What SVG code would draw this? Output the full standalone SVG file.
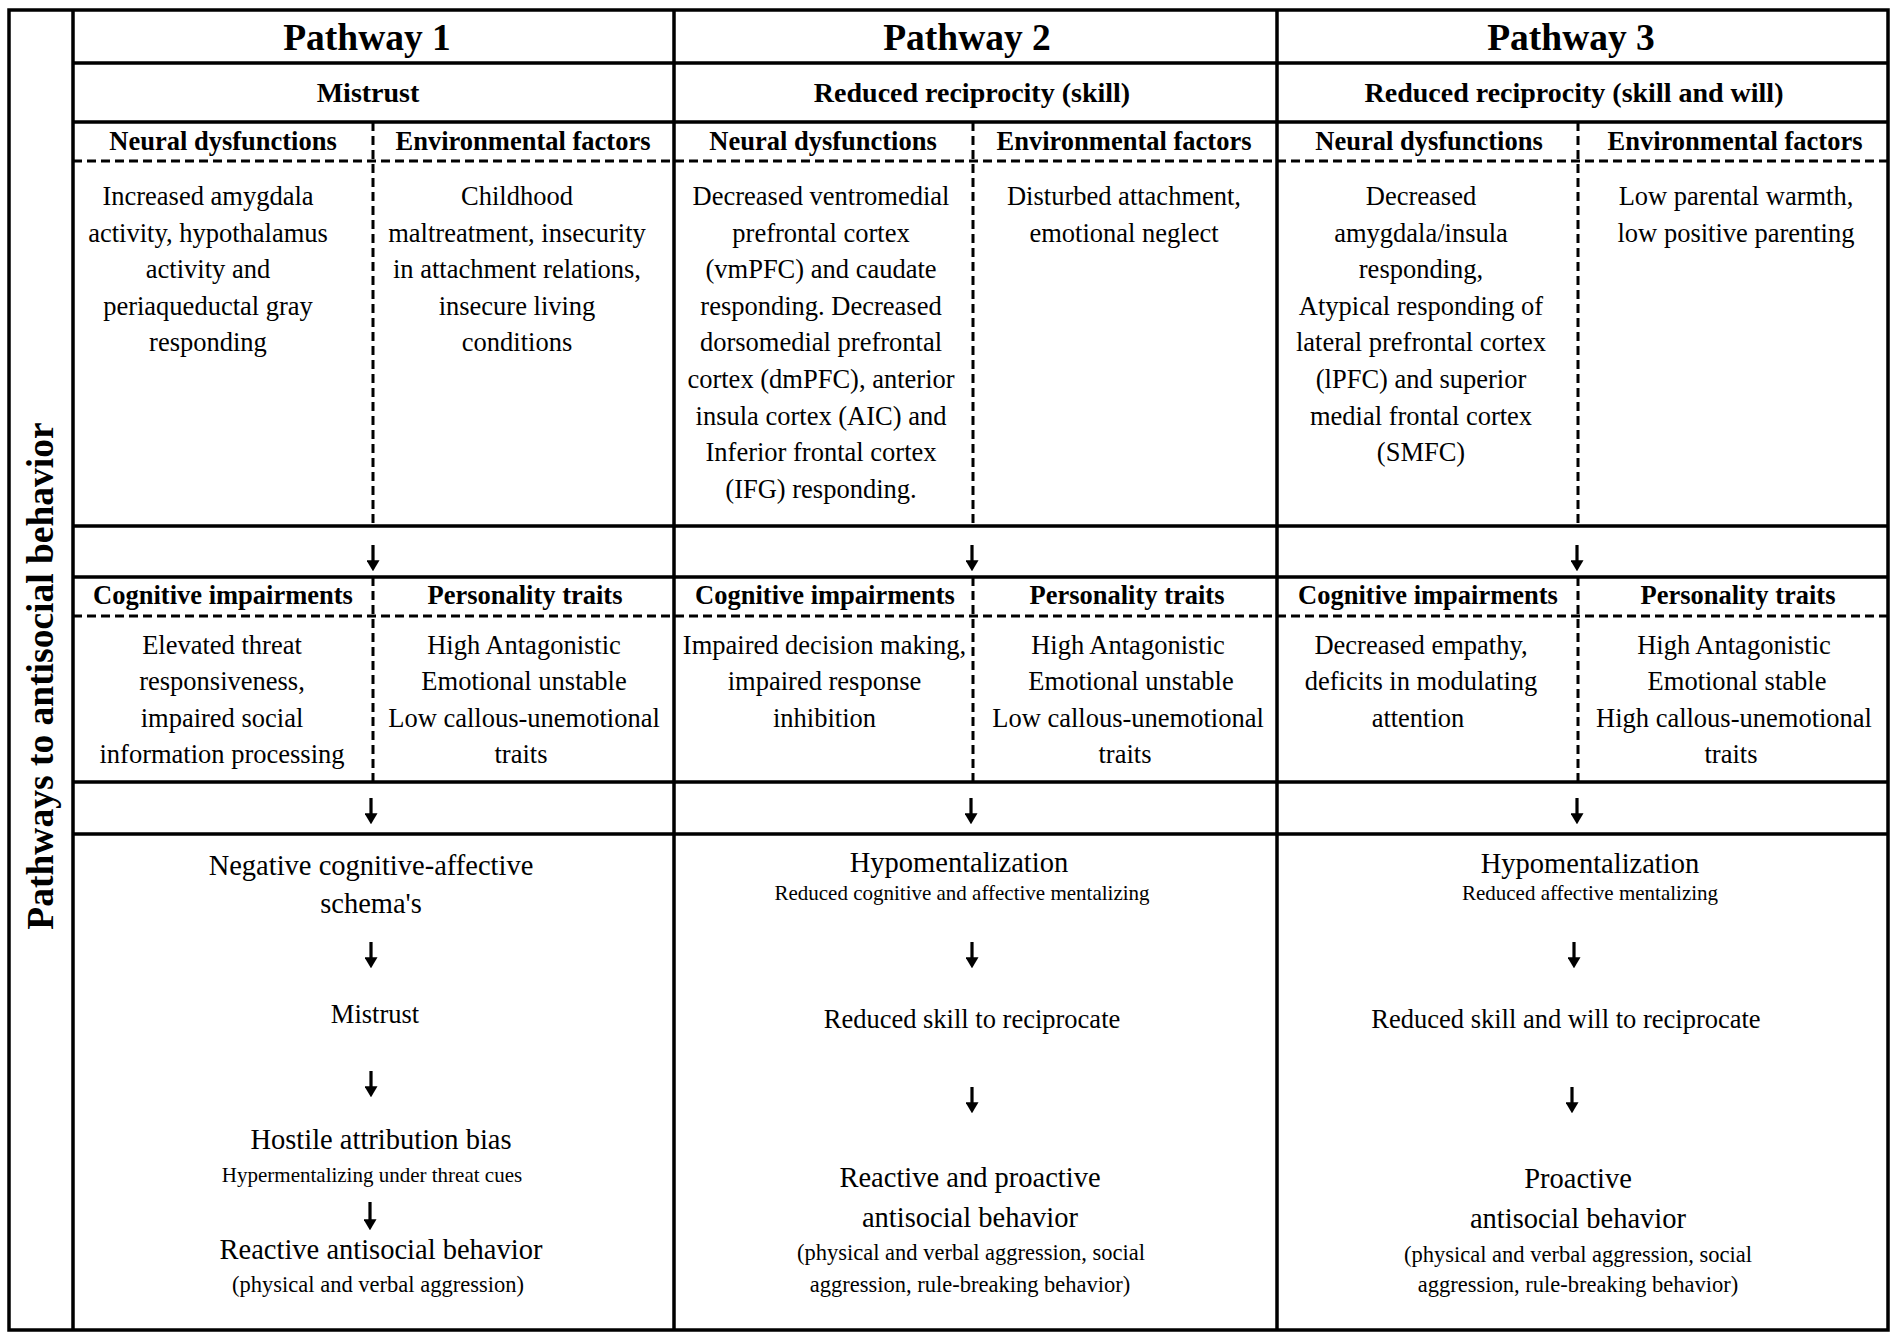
<svg xmlns="http://www.w3.org/2000/svg" width="1902" height="1343" viewBox="0 0 1902 1343">
<defs>
<style>
text { font-family: "Liberation Serif", "Times New Roman", serif; fill: #000; text-anchor: middle; }
.t1 { font-size: 37.5px; font-weight: bold; }
.t2 { font-size: 28px; font-weight: bold; }
.h { font-size: 26.5px; font-weight: bold; }
.b { font-size: 26.5px; }
.L { font-size: 28.5px; }
.s { font-size: 21px; }
.p { font-size: 22.5px; }
.grid { stroke: #000; stroke-width: 3.5; fill: none; }
.dash { stroke: #000; stroke-width: 3; stroke-dasharray: 9 5; fill: none; }
.arr { stroke: #000; stroke-width: 3.2; fill: none; marker-end: url(#ah); }
</style>
<marker id="ah" viewBox="0 0 10 10" refX="7" refY="5" markerWidth="11" markerHeight="13" preserveAspectRatio="none" markerUnits="userSpaceOnUse" orient="auto">
<path d="M0,0 L10,5 L0,10 z" fill="#000"/>
</marker>
</defs>
<rect x="0" y="0" width="1902" height="1343" fill="#fff"/>

<g id="grid">
<rect class="grid" x="9" y="10" width="1879" height="1320"/>
<path class="grid" d="M73,10 V1330 M674,10 V1330 M1277,10 V1330 M73,63 H1888 M73,122 H1888 M73,526 H1888 M73,577 H1888 M73,782 H1888 M73,834 H1888"/>
<path class="dash" d="M73,161 H1888 M73,616 H1888"/>
<path class="dash" d="M373,122 V526 M973,122 V526 M1578,122 V526 M373,577 V782 M973,577 V782 M1578,577 V782"/>
</g>

<g id="side-label">
<text class="t1" transform="translate(53,676) rotate(-90)">Pathways to antisocial behavior</text>
</g>

<g id="pathway1-header">
<text class="t1" x="367" y="50">Pathway 1</text>
<text class="t2" x="368" y="102">Mistrust</text>
</g>
<g id="pathway2-header">
<text class="t1" x="967" y="50">Pathway 2</text>
<text class="t2" x="972" y="102">Reduced reciprocity (skill)</text>
</g>
<g id="pathway3-header">
<text class="t1" x="1571" y="50">Pathway 3</text>
<text class="t2" x="1574" y="102">Reduced reciprocity (skill and will)</text>
</g>

<g id="p1-neural">
<text class="h" x="223" y="150">Neural dysfunctions</text>
<text class="b" x="208" y="205">Increased amygdala</text>
<text class="b" x="208" y="241.6">activity, hypothalamus</text>
<text class="b" x="208" y="278.2">activity and</text>
<text class="b" x="208" y="314.8">periaqueductal gray</text>
<text class="b" x="208" y="351.4">responding</text>
</g>
<g id="p1-environmental">
<text class="h" x="523" y="150">Environmental factors</text>
<text class="b" x="517" y="205">Childhood</text>
<text class="b" x="517" y="241.6">maltreatment, insecurity</text>
<text class="b" x="517" y="278.2">in attachment relations,</text>
<text class="b" x="517" y="314.8">insecure living</text>
<text class="b" x="517" y="351.4">conditions</text>
</g>
<g id="p2-neural">
<text class="h" x="823" y="150">Neural dysfunctions</text>
<text class="b" x="821" y="205">Decreased ventromedial</text>
<text class="b" x="821" y="241.6">prefrontal cortex</text>
<text class="b" x="821" y="278.2">(vmPFC) and caudate</text>
<text class="b" x="821" y="314.8">responding. Decreased</text>
<text class="b" x="821" y="351.4">dorsomedial prefrontal</text>
<text class="b" x="821" y="388">cortex (dmPFC), anterior</text>
<text class="b" x="821" y="424.6">insula cortex (AIC) and</text>
<text class="b" x="821" y="461.2">Inferior frontal cortex</text>
<text class="b" x="821" y="497.8">(IFG) responding.</text>
</g>
<g id="p2-environmental">
<text class="h" x="1124" y="150">Environmental factors</text>
<text class="b" x="1124" y="205">Disturbed attachment,</text>
<text class="b" x="1124" y="241.6">emotional neglect</text>
</g>
<g id="p3-neural">
<text class="h" x="1429" y="150">Neural dysfunctions</text>
<text class="b" x="1421" y="205">Decreased</text>
<text class="b" x="1421" y="241.6">amygdala/insula</text>
<text class="b" x="1421" y="278.2">responding,</text>
<text class="b" x="1421" y="314.8">Atypical responding of</text>
<text class="b" x="1421" y="351.4">lateral prefrontal cortex</text>
<text class="b" x="1421" y="388">(lPFC) and superior</text>
<text class="b" x="1421" y="424.6">medial frontal cortex</text>
<text class="b" x="1421" y="461.2">(SMFC)</text>
</g>
<g id="p3-environmental">
<text class="h" x="1735" y="150">Environmental factors</text>
<text class="b" x="1736" y="205">Low parental warmth,</text>
<text class="b" x="1736" y="241.6">low positive parenting</text>
</g>

<g id="p1-cognitive">
<text class="h" x="223" y="604">Cognitive impairments</text>
<text class="b" x="222" y="654">Elevated threat</text>
<text class="b" x="222" y="690">responsiveness,</text>
<text class="b" x="222" y="727">impaired social</text>
<text class="b" x="222" y="763">information processing</text>
</g>
<g id="p1-personality">
<text class="h" x="525" y="604">Personality traits</text>
<text class="b" x="524" y="654">High Antagonistic</text>
<text class="b" x="524" y="690">Emotional unstable</text>
<text class="b" x="524" y="727">Low callous-unemotional</text>
<text class="b" x="521" y="763">traits</text>
</g>
<g id="p2-cognitive">
<text class="h" x="825" y="604">Cognitive impairments</text>
<text class="b" x="824.5" y="654">Impaired decision making,</text>
<text class="b" x="824.5" y="690">impaired response</text>
<text class="b" x="824.5" y="727">inhibition</text>
</g>
<g id="p2-personality">
<text class="h" x="1127" y="604">Personality traits</text>
<text class="b" x="1128" y="654">High Antagonistic</text>
<text class="b" x="1131" y="690">Emotional unstable</text>
<text class="b" x="1128" y="727">Low callous-unemotional</text>
<text class="b" x="1125" y="763">traits</text>
</g>
<g id="p3-cognitive">
<text class="h" x="1428" y="604">Cognitive impairments</text>
<text class="b" x="1421" y="654">Decreased empathy,</text>
<text class="b" x="1421" y="690">deficits in modulating</text>
<text class="b" x="1418" y="727">attention</text>
</g>
<g id="p3-personality">
<text class="h" x="1738" y="604">Personality traits</text>
<text class="b" x="1734" y="654">High Antagonistic</text>
<text class="b" x="1737" y="690">Emotional stable</text>
<text class="b" x="1734" y="727">High callous-unemotional</text>
<text class="b" x="1731" y="763">traits</text>
</g>

<g id="p1-outcome">
<text class="L" x="371" y="875">Negative cognitive-affective</text>
<text class="L" x="371" y="913">schema's</text>
<text class="b" x="375" y="1023">Mistrust</text>
<text class="L" x="381" y="1149">Hostile attribution bias</text>
<text class="s" x="372" y="1182">Hypermentalizing under threat cues</text>
<text class="L" x="381" y="1259">Reactive antisocial behavior</text>
<text class="p" x="378" y="1292">(physical and verbal aggression)</text>
</g>
<g id="p2-outcome">
<text class="L" x="959" y="872">Hypomentalization</text>
<text class="s" x="962" y="900">Reduced cognitive and affective mentalizing</text>
<text class="b" x="972" y="1028">Reduced skill to reciprocate</text>
<text class="L" x="970" y="1187">Reactive and proactive</text>
<text class="L" x="970" y="1227">antisocial behavior</text>
<text class="p" x="971" y="1260">(physical and verbal aggression, social</text>
<text class="p" x="970" y="1292">aggression, rule-breaking behavior)</text>
</g>
<g id="p3-outcome">
<text class="L" x="1590" y="873">Hypomentalization</text>
<text class="s" x="1590" y="900">Reduced affective mentalizing</text>
<text class="b" x="1566" y="1028">Reduced skill and will to reciprocate</text>
<text class="L" x="1578" y="1188">Proactive</text>
<text class="L" x="1578" y="1228">antisocial behavior</text>
<text class="p" x="1578" y="1262">(physical and verbal aggression, social</text>
<text class="p" x="1578" y="1292">aggression, rule-breaking behavior)</text>
</g>

<g id="connectors">
<line class="arr" x1="373" y1="545" x2="373" y2="568"/>
<line class="arr" x1="972" y1="545" x2="972" y2="568"/>
<line class="arr" x1="1577" y1="545" x2="1577" y2="568"/>
<line class="arr" x1="371" y1="798" x2="371" y2="821"/>
<line class="arr" x1="971" y1="798" x2="971" y2="821"/>
<line class="arr" x1="1577" y1="798" x2="1577" y2="821"/>
<line class="arr" x1="371" y1="942" x2="371" y2="965"/>
<line class="arr" x1="371" y1="1071" x2="371" y2="1094"/>
<line class="arr" x1="370" y1="1202" x2="370" y2="1227"/>
<line class="arr" x1="972" y1="942" x2="972" y2="965"/>
<line class="arr" x1="972" y1="1087" x2="972" y2="1110"/>
<line class="arr" x1="1574" y1="942" x2="1574" y2="965"/>
<line class="arr" x1="1572" y1="1087" x2="1572" y2="1110"/>
</g>
</svg>
